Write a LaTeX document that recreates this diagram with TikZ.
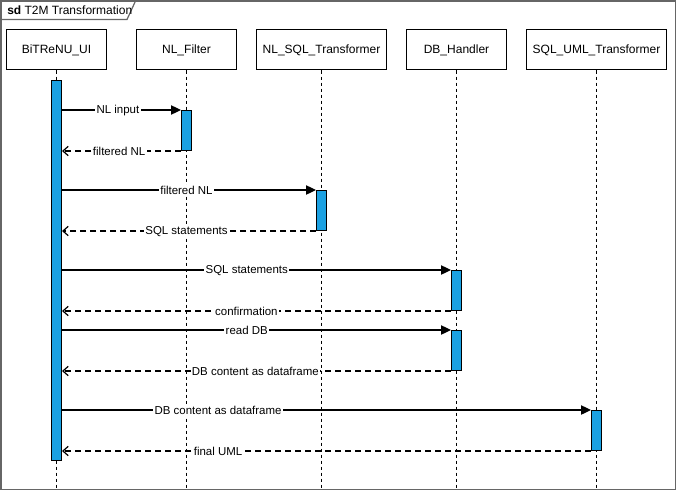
\documentclass[tikz,border=0pt]{standalone}
\usepackage{fontspec}
\setmainfont{Liberation Sans}
\usetikzlibrary{arrows.meta}
\definecolor{actblue}{HTML}{1BA1E2}
\definecolor{framegray}{HTML}{666666}
\begin{document}
\begin{tikzpicture}[x=0.75pt,y=-0.75pt,
  head/.style={draw=black,line width=0.75pt,fill=white,minimum width=75pt,minimum height=30pt,
    inner sep=0pt,font=\fontsize{9pt}{11pt}\selectfont},
  actbar/.style={draw=black,line width=0.75pt,fill=actblue,minimum width=7.5pt,inner sep=0pt,anchor=north},
  lifeline/.style={line width=0.75pt,dash pattern=on 2.25pt off 2.25pt},
  call/.style={line width=0.9pt,-{Triangle[length=7.5pt,width=7pt]}},
  reply/.style={line width=0.9pt,dash pattern=on 4.5pt off 3pt,-{Straight Barb[length=4pt,width=7pt]}},
  lbl/.style={fill=white,inner sep=1pt,yshift=-0.6pt,font=\fontsize{8.6pt}{10pt}\selectfont}]
\useasboundingbox (0,0) rectangle (677,492);

% frame with name tab
\draw[framegray,line width=0.9pt] (1,1) rectangle (675.5,489.5);
\draw[framegray,line width=0.9pt] (1,19.5) -- (127,19.5) -- (135.5,1);
\node[anchor=base west,inner sep=0pt,font=\fontsize{9pt}{11pt}\selectfont] (title) at (7,14.5)
  {\textbf{sd} T2M Transformation};
\coordinate (bottom) at (0,489.5);

% lifeline heads
\node[head] (ui) at (56.5,50) {BiTReNU\_UI};
\node[head] (filter) at (186.5,50) {NL\_Filter};
\node[head,minimum width=97.5pt] (nlsql) at (321.5,50) {NL\_SQL\_Transformer};
\node[head] (db) at (456.5,50) {DB\_Handler};
\node[head,minimum width=105pt] (sqluml) at (596.5,50) {SQL\_UML\_Transformer};

% lifelines
\foreach \p in {ui,filter,nlsql,db,sqluml}
  \draw[lifeline] (\p.south) -- (\p.south |- bottom);

% activation bars
\node[actbar,minimum height=285pt] (aui) at (56.5,80) {};
\node[actbar,minimum height=30pt] (afilter) at (186.5,110) {};
\node[actbar,minimum height=30pt] (anlsql) at (321.5,190) {};
\node[actbar,minimum height=30pt] (adb1) at (456.5,270) {};
\node[actbar,minimum height=30pt] (adb2) at (456.5,330) {};
\node[actbar,minimum height=30pt] (asqluml) at (596.5,410) {};

% messages
\draw[call] (aui.east |- afilter.north) -- node[lbl,pos=0.47] {NL input} (afilter.north west);
\draw[reply] (afilter.south west) -- node[lbl,pos=0.52] {filtered NL} (aui.east |- afilter.south);
\draw[call] (aui.east |- anlsql.north) -- node[lbl,pos=0.49] {filtered NL} (anlsql.north west);
\draw[reply] (anlsql.south west) -- node[lbl,pos=0.51] {SQL statements} (aui.east |- anlsql.south);
\draw[call] (aui.east |- adb1.north) -- node[lbl,pos=0.475] {SQL statements} (adb1.north west);
\draw[reply] (adb1.south west) -- node[lbl,pos=0.526] {confirmation} (aui.east |- adb1.south);
\draw[call] (aui.east |- adb2.north) -- node[lbl,pos=0.475] {read DB} (adb2.north west);
\draw[reply] (adb2.south west) -- node[lbl,pos=0.503] {DB content as dataframe} (aui.east |- adb2.south);
\draw[call] (aui.east |- asqluml.north) -- node[lbl,pos=0.295] {DB content as dataframe} (asqluml.north west);
\draw[reply] (asqluml.south west) -- node[lbl,pos=0.705] {final UML} (aui.east |- asqluml.south);
\end{tikzpicture}
\end{document}
